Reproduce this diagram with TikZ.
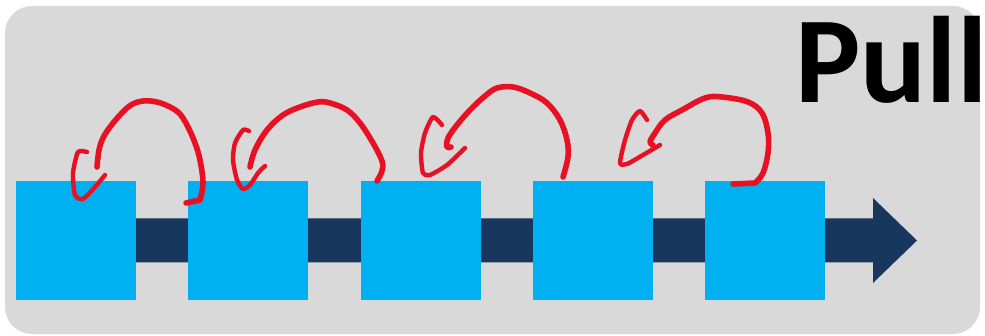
\documentclass[tikz,border=0pt]{standalone}
\usepackage{fontspec}
\newfontfamily\pullfont{Carlito}
\usepackage{tikz}
\usetikzlibrary{positioning, calc, backgrounds}
\definecolor{panelgrey}{HTML}{D9D9D9}
\definecolor{cardblue}{HTML}{00B0F0}
\definecolor{flownavy}{HTML}{17375E}
\definecolor{penred}{HTML}{E81123}

\begin{document}
\begin{tikzpicture}[
    x=0.5pt, y=-0.5pt,
    node distance=25.75pt,
    card/.style={fill=cardblue, minimum width=60pt, minimum height=59.5pt, inner sep=0pt},
    pen/.style={draw=penred, line width=2.8pt, line cap=round, line join=round},
    tick/.style={pen, line width=2.2pt},
]
    \useasboundingbox (0,0) rectangle (985,336);

    \node[card] (sq1) at (76,240.5) {};
    \node[card, right=of sq1] (sq2) {};
    \node[card, right=of sq2] (sq3) {};
    \node[card, right=of sq3] (sq4) {};
    \node[card, right=of sq4] (sq5) {};
    \coordinate (head) at (917,240.5);

    \node[anchor=base west, inner sep=0pt, font={\pullfont\bfseries\fontsize{61.5pt}{62pt}\selectfont}] (title) at (795,103) {Pull};

    \begin{scope}[on background layer]
        \fill[panelgrey, rounded corners=13.5pt] (5,6) rectangle (980,334);
        \fill[flownavy] ($(sq1.center)+(0,-22)$) -- ($(head)+(-44,-22)$) -- ($(head)+(-44,-42.5)$)
            -- (head) -- ($(head)+(-44,42.5)$) -- ($(head)+(-44,22)$) -- ($(sq1.center)+(0,22)$) -- cycle;
    \end{scope}

    % hand drawn pull loops, sq2 -> sq1
    \draw[pen] (186,203) -- (200,200) -- plot[smooth, tension=0.6] coordinates {(200,200) (203,183) (200,160) (195,143) (188,127) (180,114) (170,107) (157,102) (143,101) (131,105) (120,115) (110,127) (103,138) (99,150) (97,167)};
    \draw[tick] plot[smooth, tension=0.4] coordinates {(87,152) (78,152) (73,173) (75,195) (83,199) (95,187) (105,175)};

    % sq3 -> sq2
    \draw[pen] plot[smooth, tension=0.6] coordinates {(377,181) (382,171) (382,161) (373,143) (360,123) (347,110) (330,103) (318,102) (300,107) (283,115) (267,130) (255,150) (250,167)};
    \draw[tick] plot[smooth, tension=0.4] coordinates {(249,131) (243,130) (235,143) (233,160) (237,180) (243,189) (250,185) (258,173) (265,166)};

    % sq4 -> sq3
    \draw[pen] plot[smooth, tension=0.6] coordinates {(563,177) (568,157) (567,140) (560,120) (547,103) (530,93) (513,87) (497,88) (485,96) (470,110) (457,125) (448,138) (447,147) (451,147)};
    \draw[tick] plot[smooth, tension=0.4] coordinates {(442,125) (433,117) (425,133) (421,153) (423,173) (430,175) (447,165) (465,148)};

    % sq5 -> sq4
    \draw[pen] (733,184) -- (755,183) -- plot[smooth, tension=0.6] coordinates {(755,183) (763,173) (768,153) (768,133) (762,113) (748,102) (722,97) (705,98) (682,110) (665,120) (655,133) (650,142) (653,145)};
    \draw[tick] plot[smooth, tension=0.4] coordinates {(647,120) (640,111) (632,120) (625,140) (620,163) (627,164) (643,155) (660,145)};
\end{tikzpicture}
\end{document}
